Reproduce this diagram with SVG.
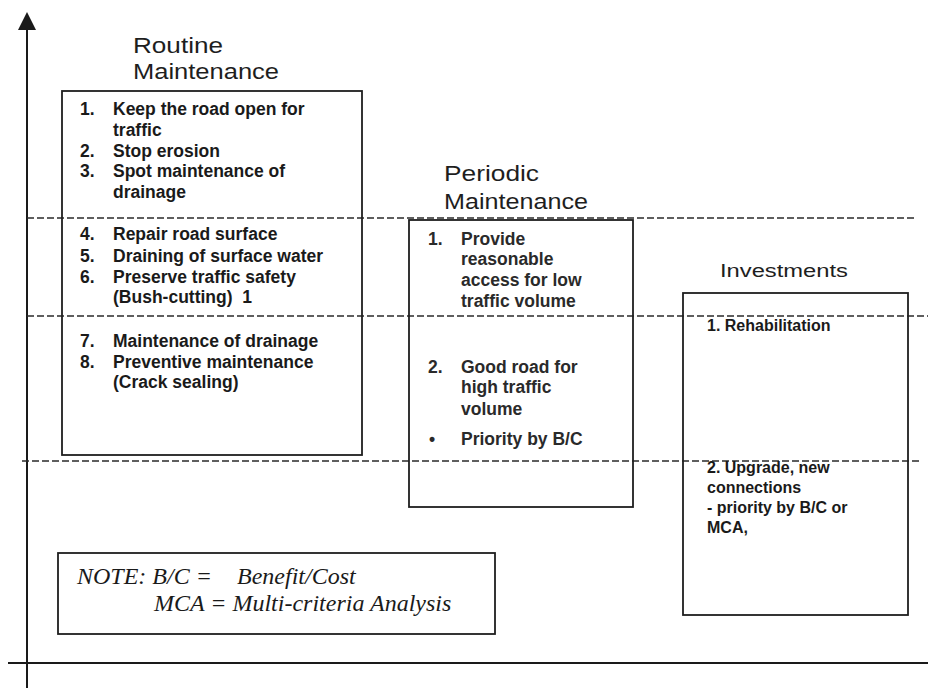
<svg xmlns="http://www.w3.org/2000/svg" width="928" height="688" viewBox="0 0 928 688">
<defs>
<style>
.box{fill:none;stroke:#1e1e1e;stroke-width:1.8}
.dash{stroke:#2a2a2a;stroke-width:1.5;stroke-dasharray:7 3;fill:none}
.axis{stroke:#1a1a1a;stroke-width:2;fill:none}
.title{font-family:"Liberation Sans",Arial,sans-serif;font-size:22px;fill:#1e1e1e}
.item{font-family:"Liberation Sans",Arial,sans-serif;font-size:17.5px;font-weight:bold;fill:#1a1a1a}
.pitem{font-family:"Liberation Sans",Arial,sans-serif;font-size:17.5px;font-weight:bold;fill:#2a2a2a}
.iitem{font-family:"Liberation Sans",Arial,sans-serif;font-size:16px;font-weight:bold;fill:#1a1a1a}
.note{font-family:"Liberation Serif","Times New Roman",serif;font-size:24px;font-style:italic;fill:#1a1a1a}
</style>
</defs>
<rect width="928" height="688" fill="#ffffff"/>
<g id="connectors">
<line class="axis" x1="27" y1="26" x2="27" y2="688"/>
<polygon points="27,12 18,30 36,30" fill="#1a1a1a"/>
<line class="axis" x1="8" y1="663" x2="928" y2="663"/>
<line class="dash" x1="27" y1="218" x2="917" y2="218"/>
<line class="dash" x1="27" y1="316" x2="928" y2="316"/>
<line class="dash" x1="22" y1="461" x2="920" y2="461"/>
</g>
<g id="routine">
<text class="title" x="133" y="53" textLength="90" lengthAdjust="spacingAndGlyphs">Routine</text>
<text class="title" x="133" y="79" textLength="146" lengthAdjust="spacingAndGlyphs">Maintenance</text>
<rect class="box" x="62" y="91" width="300" height="364"/>
<text class="item" x="80" y="115">1.</text><text class="item" x="113" y="115">Keep the road open for</text>
<text class="item" x="113" y="136">traffic</text>
<text class="item" x="80" y="157">2.</text><text class="item" x="113" y="157">Stop erosion</text>
<text class="item" x="80" y="177">3.</text><text class="item" x="113" y="177">Spot maintenance of</text>
<text class="item" x="113" y="198">drainage</text>
<text class="item" x="80" y="240">4.</text><text class="item" x="113" y="240">Repair road surface</text>
<text class="item" x="80" y="262">5.</text><text class="item" x="113" y="262">Draining of surface water</text>
<text class="item" x="80" y="283">6.</text><text class="item" x="113" y="283">Preserve traffic safety</text>
<text class="item" x="113" y="303" xml:space="preserve">(Bush-cutting)  1</text>
<text class="item" x="80" y="347">7.</text><text class="item" x="113" y="347">Maintenance of drainage</text>
<text class="item" x="80" y="368">8.</text><text class="item" x="113" y="368">Preventive maintenance</text>
<text class="item" x="113" y="388">(Crack sealing)</text>
</g>
<g id="periodic">
<text class="title" x="444" y="181" textLength="95" lengthAdjust="spacingAndGlyphs">Periodic</text>
<text class="title" x="444" y="209" textLength="144" lengthAdjust="spacingAndGlyphs">Maintenance</text>
<rect class="box" x="409" y="220" width="224" height="287"/>
<text class="pitem" x="428" y="245">1.</text><text class="pitem" x="461" y="245">Provide</text>
<text class="pitem" x="461" y="265">reasonable</text>
<text class="pitem" x="461" y="286">access for low</text>
<text class="pitem" x="461" y="307">traffic volume</text>
<text class="pitem" x="428" y="373">2.</text><text class="pitem" x="461" y="373">Good road for</text>
<text class="pitem" x="461" y="393">high traffic</text>
<text class="pitem" x="461" y="415">volume</text>
<text class="pitem" x="429" y="445">•</text><text class="pitem" x="461" y="445">Priority by B/C</text>
</g>
<g id="investments">
<text class="title" x="720" y="277" style="font-size:18px" textLength="128" lengthAdjust="spacingAndGlyphs">Investments</text>
<rect class="box" x="683" y="293" width="225" height="322"/>
<text class="iitem" x="707" y="331">1. Rehabilitation</text>
<text class="iitem" x="707" y="473">2. Upgrade, new</text>
<text class="iitem" x="707" y="493">connections</text>
<text class="iitem" x="707" y="513">- priority by B/C or</text>
<text class="iitem" x="707" y="533">MCA,</text>
</g>
<g id="note">
<rect class="box" x="58" y="553" width="437" height="81"/>
<text class="note" x="77" y="584">NOTE: B/C =</text>
<text class="note" x="237" y="584">Benefit/Cost</text>
<text class="note" x="154" y="611">MCA = Multi-criteria Analysis</text>
</g>
</svg>
